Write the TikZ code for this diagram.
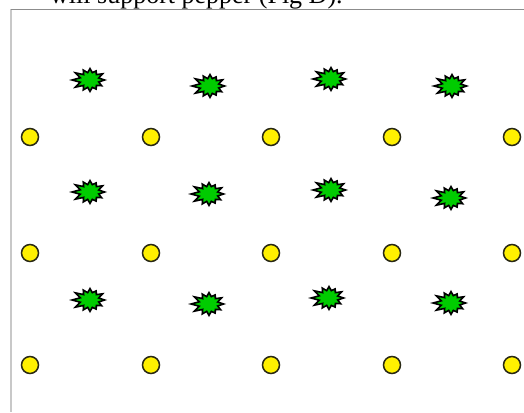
\documentclass[tikz,border=0pt]{standalone}
\usepackage{fontspec}
\setmainfont{Liberation Serif}
\definecolor{leaf}{RGB}{0,204,0}
\definecolor{sun}{RGB}{255,240,0}
\definecolor{rim}{RGB}{40,40,20}
\definecolor{frametop}{RGB}{140,140,140}
\definecolor{frameleft}{RGB}{200,200,200}
\tikzset{
  burst/.pic={
    \filldraw[fill=leaf,draw=black,line width=1.6pt,line join=miter,miter limit=5,scale=1.12,yscale=0.85]
      (0:13) -- (15:8) -- (30:12) -- (45:8) -- (60:11) -- (75:8) -- (90:12) -- (105:8)
      -- (120:12) -- (135:8) -- (150:15) -- (165:9) -- (180:16) -- (195:9) -- (210:15)
      -- (225:8) -- (240:12) -- (255:8) -- (270:12) -- (285:8) -- (300:11) -- (315:8)
      -- (330:13) -- (345:8) -- cycle;
  },
  dot/.style={circle,draw=rim,fill=sun,line width=1.5pt,minimum size=17pt,inner sep=0pt}
}
\begin{document}
\begin{tikzpicture}[x=1pt,y=-1pt]
\useasboundingbox (0,0) rectangle (524,412);
\clip (0,0) rectangle (524,412);
\node[anchor=base west,inner sep=0pt,font=\fontsize{26}{30}\selectfont] (cap) at (50,3.5) {will support pepper (Fig D).};
\coordinate (tl) at (11,9.5);
\coordinate (tr) at (524,9.5);
\coordinate (bl) at (11,412);
\draw[frameleft,line width=1.5pt] (tl) -- (bl);
\draw[frametop,line width=1.5pt] (tl) -- (tr);
% stars
\pic (s11) at (90,80) {burst};
\pic (s12) at (210,86) {burst};
\pic (s13) at (331,79) {burst};
\pic (s14) at (452,86) {burst};
\pic (s21) at (90,192) {burst};
\pic (s22) at (209,194) {burst};
\pic (s23) at (331,190) {burst};
\pic (s24) at (451,198) {burst};
\pic (s31) at (90,300) {burst};
\pic (s32) at (209,304) {burst};
\pic (s33) at (329,298) {burst};
\pic (s34) at (451,303) {burst};
% circles
\foreach \r/\yy in {1/137,2/253,3/365}{
  \foreach \c/\xx in {1/30,2/151,3/271,4/392,5/512}{
    \node[dot] (c\r\c) at (\xx,\yy) {};
  }
}
\end{tikzpicture}
\end{document}
